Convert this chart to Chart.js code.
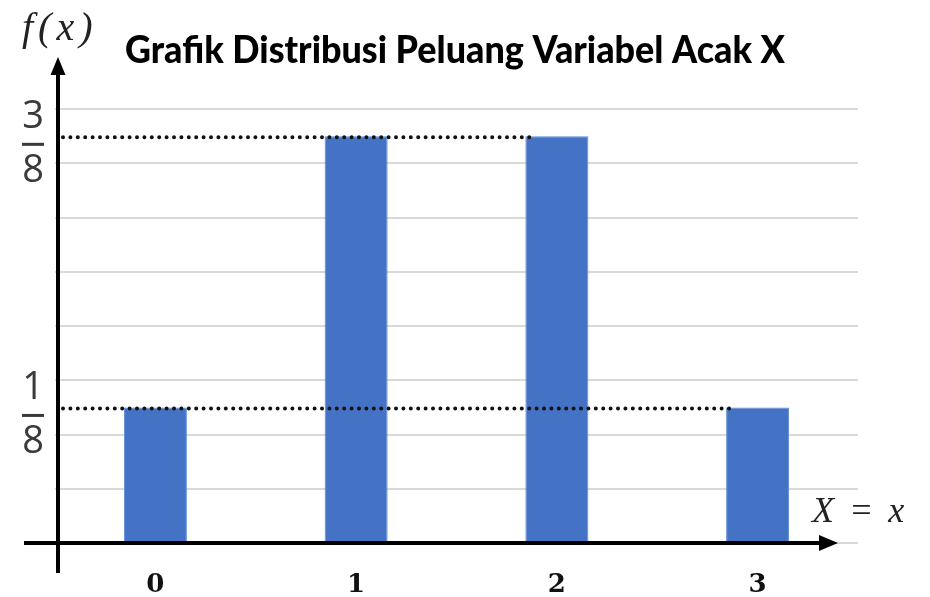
<!DOCTYPE html>
<html>
<head>
<meta charset="utf-8">
<script src="https://cdn.jsdelivr.net/npm/chart.js@4"></script>
<style>
  html, body { margin: 0; padding: 0; background: #fff; }
  #wrap { width: 930px; height: 597px; position: relative; }
</style>
</head>
<body>
<div id="wrap"><canvas id="c"></canvas></div>
<script>
// ---- data ----
const categories = ['0', '1', '2', '3'];
const probabilities = [1/8, 3/8, 3/8, 1/8];
const yFractionValues = [1/8, 3/8];
const yFractionNum = ['1', '3'];
const yFractionDen = ['8', '8'];
// dotted guide lines: value and the bar index they run up to
const guideValues = [3/8, 1/8];
const guideEndBar = [2, 3];
const titleText = 'Grafik Distribusi Peluang Variabel Acak X';
const yAxisLabel = 'f(x)';
const xAxisLabel = 'X = x';

const overlay = {
  id: 'overlay',
  afterDatasetsDraw(chart) {
    const ctx = chart.ctx;
    const xs = chart.scales.x, ys = chart.scales.y;
    const area = chart.chartArea;
    const meta = chart.getDatasetMeta(0);
    const axisX = area.left + 3;
    const axisY = ys.getPixelForValue(0);

    // dotted guide lines
    ctx.save();
    ctx.strokeStyle = '#111';
    ctx.lineWidth = 4;
    ctx.lineCap = 'round';
    ctx.setLineDash([0, 7.4]);
    guideValues.forEach((v, i) => {
      const bar = meta.data[guideEndBar[i]];
      const y = ys.getPixelForValue(v) + 1;
      const xEnd = bar.x - bar.width / 2 + 4;
      ctx.beginPath();
      ctx.moveTo(axisX + 5, y);
      ctx.lineTo(xEnd, y);
      ctx.stroke();
    });
    ctx.restore();

    // axes with arrows
    ctx.save();
    ctx.strokeStyle = '#000';
    ctx.fillStyle = '#000';
    ctx.lineWidth = 4;
    // y axis
    ctx.beginPath();
    ctx.moveTo(axisX, axisY + 30);
    ctx.lineTo(axisX, area.top + 18);
    ctx.stroke();
    ctx.beginPath();
    ctx.moveTo(axisX, area.top + 2);
    ctx.lineTo(axisX - 7.5, area.top + 20);
    ctx.lineTo(axisX + 7.5, area.top + 20);
    ctx.closePath();
    ctx.fill();
    // x axis
    ctx.beginPath();
    ctx.moveTo(24, axisY);
    ctx.lineTo(area.right - 38, axisY);
    ctx.stroke();
    ctx.beginPath();
    ctx.moveTo(area.right - 20, axisY);
    ctx.lineTo(area.right - 39, axisY - 8);
    ctx.lineTo(area.right - 39, axisY + 8);
    ctx.closePath();
    ctx.fill();
    ctx.restore();

    // y fraction labels
    ctx.save();
    ctx.fillStyle = '#3a3a3a';
    ctx.strokeStyle = '#3a3a3a';
    ctx.font = '38px "Open Sans"';
    ctx.textAlign = 'center';
    ctx.textBaseline = 'middle';
    yFractionValues.forEach((v, i) => {
      const yb = ys.getPixelForValue(v) + 8;
      ctx.fillText(yFractionNum[i], 33, yb - 27);
      ctx.fillText(yFractionDen[i], 33, yb + 27);
      ctx.lineWidth = 3;
      ctx.beginPath();
      ctx.moveTo(22, yb);
      ctx.lineTo(44, yb);
      ctx.stroke();
    });
    ctx.restore();

    // f(x) and X = x
    ctx.save();
    ctx.fillStyle = '#222';
    ctx.font = 'italic 40px "Liberation Serif"';
    ctx.textBaseline = 'alphabetic';
    ctx.textAlign = 'left';
    ctx.letterSpacing = '5px';
    ctx.fillText(yAxisLabel, 22, 40);
    ctx.font = 'italic 36px "Liberation Serif"';
    ctx.letterSpacing = '3px';
    ctx.fillText(xAxisLabel, 812, 522);
    ctx.restore();

    // title
    ctx.save();
    ctx.fillStyle = '#000';
    ctx.font = '900 38px Lato';
    ctx.textAlign = 'center';
    ctx.textBaseline = 'alphabetic';
    ctx.fillText(titleText, 455, 63, 660);
    ctx.restore();
  }
};

new Chart(document.getElementById('c'), {
  type: 'bar',
  data: {
    labels: categories,
    datasets: [{
      data: probabilities,
      backgroundColor: '#4472C4',
      borderColor: '#5a8ad6',
      borderWidth: 1,
      barPercentage: 0.314,
      categoryPercentage: 1.0
    }]
  },
  options: {
    responsive: true,
    maintainAspectRatio: false,
    animation: false,
    layout: { padding: { left: 55, right: 72, top: 55, bottom: 0 } },
    plugins: { legend: { display: false }, tooltip: { enabled: false }, title: { display: false } },
    scales: {
      x: {
        grid: { display: false, drawTicks: false },
        border: { display: false },
        afterFit: (s) => { s.height = 54; },
        ticks: {
          padding: 27,
          color: '#111',
          font: { family: '"DejaVu Serif"', size: 26, weight: 'bold', lineHeight: 1.16 }
        }
      },
      y: {
        min: 0,
        max: 0.45,
        ticks: { display: false, stepSize: 0.05 },
        border: { display: false },
        grid: {
          drawTicks: false,
          lineWidth: 2,
          color: (c) => (c.tick && c.tick.value > 0.41) ? 'rgba(0,0,0,0)' : '#d9d9d9'
        }
      }
    }
  },
  plugins: [overlay]
});
</script>
</body>
</html>
